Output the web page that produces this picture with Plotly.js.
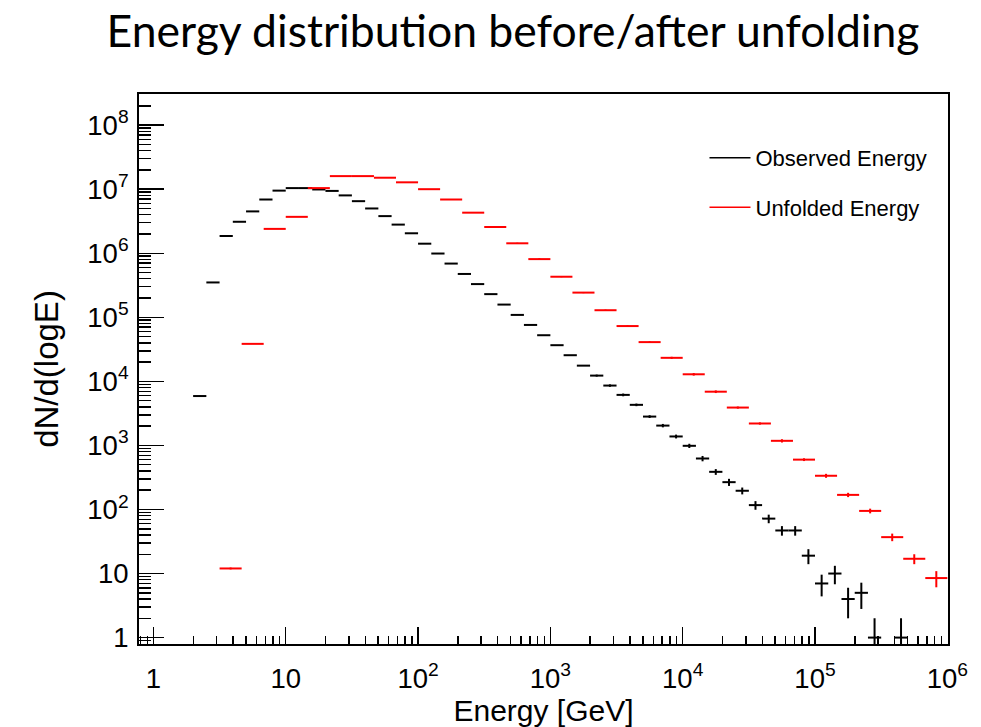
<!DOCTYPE html>
<html><head><meta charset="utf-8">
<script src="https://cdn.plot.ly/plotly-3.0.1.min.js"></script>
<style>html,body{margin:0;padding:0;background:#fff;} #chart{width:981px;height:727px;}</style>
</head><body><div id="chart"></div>
<script>
// ---- data ----
const chartTitle = 'Energy distribution before/after unfolding';
const xTitle = 'Energy [GeV]';
const yTitle = 'dN/d(logE)';
const observedName = 'Observed Energy';
const unfoldedName = 'Unfolded Energy';

// Observed histogram: bins in log10(E), starting at 0.3, width 0.1
const OBS_LOG_MIN = 0.3, OBS_LOG_STEP = 0.1;
const observedValues = [5900, 3.5e5, 1.86e6, 3.1e6, 4.5e6, 6.9e6, 9.5e6, 1.04e7, 1.04e7, 9.9e6,
  9.4e6, 8.0e6, 6.5e6, 5.0e6, 3.8e6, 2.8e6, 2.05e6, 1.41e6, 9.9e5, 6.9e5,
  4.75e5, 3.3e5, 2.3e5, 1.58e5, 1.09e5, 7.6e4, 5.25e4, 3.67e4, 2.56e4, 1.76e4,
  1.23e4, 8600, 6150, 4300, 2820, 2040, 1380, 986, 625, 387,
  267, 196, 117, 72, 47, 47, 19, 7, 10, 4,
  5, 1, null, 1];
const observedErrors = [80, 600, 1400, 1800, 2100, 2600, 3100, 3200, 3200, 3200,
  3100, 2800, 2600, 2200, 2000, 1700, 1500, 1200, 1000, 850,
  700, 600, 500, 420, 360, 300, 260, 230, 200, 230,
  450, 380, 300, 200, 140, 125, 95, 75, 60, 40,
  34, 24, 18, 11, 8, 8, 5, 2.6, 3.2, 2,
  2.2, 1, null, 1];

// Unfolded histogram: bins in log10(E), starting at 0.5, width 1/6
const UNF_LOG_MIN = 0.5, UNF_LOG_STEP = 1 / 6;
const unfoldedValues = [12, 3.85e4, 2.4e6, 3.7e6, 1.04e7, 1.6e7, 1.6e7, 1.51e7, 1.28e7, 1.0e7,
  6.9e6, 4.3e6, 2.57e6, 1.43e6, 8.1e5, 4.3e5, 2.43e5, 1.29e5, 7.3e4, 4.1e4,
  2.33e4, 1.29e4, 6900, 3900, 2200, 1180, 600, 336, 169, 95,
  37, 17, 8.5];
const unfoldedErrors = [0.4, 200, 8000, 10000, 20000, 25000, 25000, 24000, 22000, 19000,
  16000, 12000, 9000, 30000, 25000, 8000, 5000, 3000, 2000, 1200,
  900, 600, 330, 150, 90, 70, 30, 24, 13, 8,
  5, 3, 2.4];

// ---- build ----
function histTrace(logMin, step, vals, errs, color) {
  const x = [], lo = [], hi = [];
  vals.forEach((v, i) => {
    const a = logMin + i * step, b = a + step, c = (a + b) / 2;
    const xc = Math.pow(10, c);
    x.push(xc); lo.push(xc - Math.pow(10, a)); hi.push(Math.pow(10, b) - xc);
  });
  return {
    type: 'scatter', mode: 'markers', x: x, y: vals, showlegend: false, hoverinfo: 'skip',
    marker: {size: 1, color: 'rgba(0,0,0,0)'},
    error_x: {type: 'data', symmetric: false, array: hi, arrayminus: lo, color: color, thickness: 2, width: 0},
    error_y: {type: 'data', symmetric: true, array: errs, color: color, thickness: 2, width: 0}
  };
}
const BLACK = '#000000', RED = '#ff0000';
const traces = [
  histTrace(OBS_LOG_MIN, OBS_LOG_STEP, observedValues, observedErrors, BLACK),
  histTrace(UNF_LOG_MIN, UNF_LOG_STEP, unfoldedValues, unfoldedErrors, RED),
  {type: 'scatter', mode: 'lines', x: [null], y: [null], name: observedName, legendgroup: 'o',
   line: {color: BLACK, width: 1.5}},
  {type: 'scatter', mode: 'lines', x: [null], y: [null], name: unfoldedName, legendgroup: 'u',
   line: {color: RED, width: 1.5}}
];

const axisFont = 'Liberation Sans, Arial, sans-serif';
const baseAxis = {
  type: 'log', showline: true, linewidth: 2, linecolor: '#000', mirror: true,
  ticks: 'inside', tickwidth: 1.5, tickcolor: '#000',
  tickmode: 'linear', tick0: 0, dtick: 1, exponentformat: 'power',
  tickfont: {family: axisFont, size: 22, color: '#000'},
  showgrid: false, zeroline: false
};
const layout = {
  width: 981, height: 727,
  paper_bgcolor: '#fff', plot_bgcolor: '#fff',
  margin: {l: 139, r: 33, t: 94, b: 83},
  title: {text: chartTitle, font: {family: 'Lato, Open Sans, sans-serif', size: 44.5, color: '#000'},
          x: 0.523, xref: 'container', xanchor: 'center', y: 0.957, yref: 'container', yanchor: 'middle'},
  xaxis: Object.assign({}, baseAxis, {
    range: [-0.109, 6.005], ticklen: 17, ticklabelstandoff: 10,
    minor: {dtick: 'D1', ticks: 'inside', ticklen: 8, tickwidth: 1.5, tickcolor: '#000', showgrid: false},
    title: {text: xTitle, font: {family: axisFont, size: 30, color: '#000'}, standoff: 9}
  }),
  yaxis: Object.assign({}, baseAxis, {
    range: [-0.10, 8.486], ticklen: 25, ticklabelstandoff: 4,
    minor: {dtick: 'D1', ticks: 'inside', ticklen: 12, tickwidth: 1.5, tickcolor: '#000', showgrid: false},
    title: {text: yTitle, font: {family: axisFont, size: 33, color: '#000'}, standoff: 19}
  }),
  showlegend: true,
  legend: {x: 0.699, xanchor: 'left', y: 0.922, yanchor: 'top', bgcolor: 'rgba(0,0,0,0)', borderwidth: 0,
           font: {family: axisFont, size: 22, color: '#000'}, tracegroupgap: 18, traceorder: 'grouped',
           itemwidth: 41}
};
Plotly.newPlot('chart', traces, layout, {staticPlot: true, displayModeBar: false});
</script></body></html>
